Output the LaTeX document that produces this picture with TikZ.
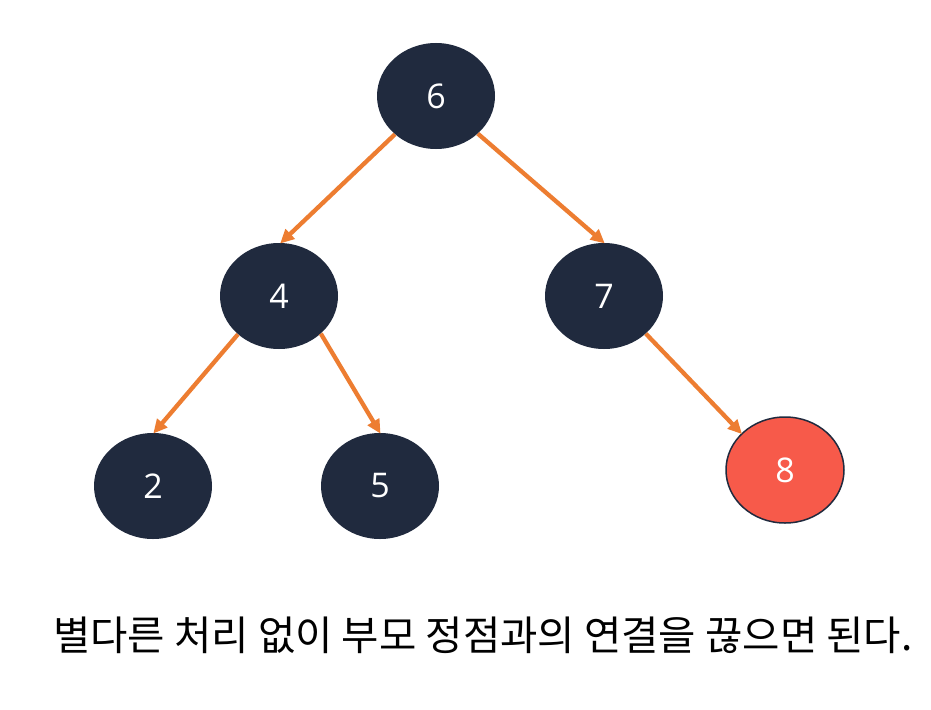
\documentclass[tikz,border=0pt]{standalone}
\usepackage{fontspec}
\setmainfont{Open Sans}
\newfontfamily\kr{Noto Sans CJK KR}
\usetikzlibrary{arrows.meta,shapes.geometric}
\definecolor{navy}{HTML}{202A3E}
\definecolor{redn}{HTML}{F75A4A}
\definecolor{orng}{HTML}{ED7D31}
\begin{document}
\begin{tikzpicture}[x=1pt,y=-1pt,
  vnode/.style={ellipse,fill=navy,minimum width=118pt,minimum height=106pt,inner sep=0pt,text=white,font=\fontsize{34}{34}\selectfont},
  rnode/.style={vnode,fill=redn,draw=navy,line width=1.5pt},
  edge/.style={draw=orng,line width=4.3pt,-{Triangle[length=14pt,width=13pt]},shorten >=-1pt}]
\useasboundingbox (0,0) rectangle (931,709);
\fill[white] (0,0) rectangle (931,709);
\node[vnode] (n6) at (436,96) {6};
\node[vnode] (n4) at (279,296) {4};
\node[vnode] (n7) at (604,296) {7};
\node[vnode] (n2) at (153,486) {2};
\node[vnode] (n5) at (380,486) {5};
\node[rnode] (n8) at (785,470) {8};
\draw[edge] (n6.223) -- (n4.88);
\draw[edge] (n6.318) -- (n7.north);
\draw[edge] (n4.223) -- (n2.89);
\draw[edge] (n4.318) -- (n5.north);
\draw[edge] (n7.318) -- (n8.140);
\node[anchor=base west,inner sep=0pt,font=\kr\fontsize{40.6}{40.6}\selectfont] (cap) at (53,650) {별다른 처리 없이 부모 정점과의 연결을 끊으면 된다.};
\end{tikzpicture}
\end{document}
